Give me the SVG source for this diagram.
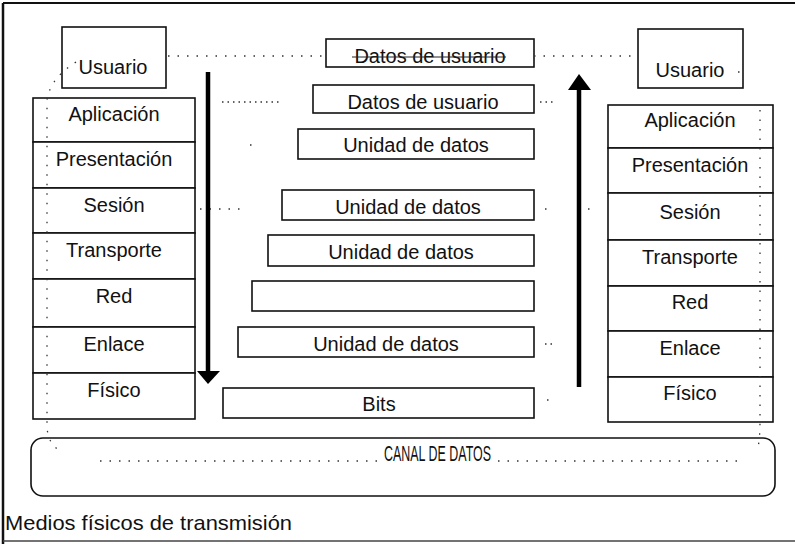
<svg xmlns="http://www.w3.org/2000/svg" width="795" height="544" viewBox="0 0 795 544">
<style>
  .box { fill: #fff; stroke: #111; stroke-width: 1.6; }
  .lbl { font-family: "Liberation Sans", Arial, sans-serif; font-size: 20px; fill: #111; text-anchor: middle; }
  .dot { fill: none; stroke: #333; stroke-width: 1.3; stroke-dasharray: 1.5 8; }
  .dense { fill: none; stroke: #333; stroke-width: 1.3; stroke-dasharray: 1.5 4; }
  .arrow { stroke: #000; stroke-width: 4.5; fill: none; }
</style>
<rect x="0" y="0" width="795" height="544" fill="#fff"/>
<g id="frame">
  <line x1="3" y1="3" x2="795" y2="3" stroke="#111" stroke-width="2"/>
  <line x1="3" y1="3" x2="3" y2="544" stroke="#111" stroke-width="2.5"/>
  <line x1="3" y1="541" x2="795" y2="541" stroke="#444" stroke-width="1.5"/>
</g>

<g id="usuario-izq">
  <rect class="box" x="62" y="27" width="104" height="61"/>
  <text class="lbl" x="113" y="74">Usuario</text>
</g>
<g id="pila-izq">
  <g id="aplicacion-izq"><rect class="box" x="33" y="98" width="162" height="44"/><text class="lbl" x="114" y="121">Aplicación</text></g>
  <g id="presentacion-izq"><rect class="box" x="33" y="142" width="162" height="46"/><text class="lbl" x="114" y="166">Presentación</text></g>
  <g id="sesion-izq"><rect class="box" x="33" y="188" width="162" height="45"/><text class="lbl" x="114" y="212">Sesión</text></g>
  <g id="transporte-izq"><rect class="box" x="33" y="233" width="162" height="46"/><text class="lbl" x="114" y="257">Transporte</text></g>
  <g id="red-izq"><rect class="box" x="33" y="279" width="162" height="48"/><text class="lbl" x="114" y="303">Red</text></g>
  <g id="enlace-izq"><rect class="box" x="33" y="327" width="162" height="46"/><text class="lbl" x="114" y="351">Enlace</text></g>
  <g id="fisico-izq"><rect class="box" x="33" y="373" width="162" height="46"/><text class="lbl" x="114" y="397">Físico</text></g>
</g>

<g id="centro">
  <g id="c1"><rect class="box" x="326" y="39" width="208" height="28"/><text class="lbl" x="430" y="63">Datos de usuario</text></g>
  <g id="c2"><rect class="box" x="313" y="85" width="221" height="28"/><text class="lbl" x="423" y="109">Datos de usuario</text></g>
  <g id="c3"><rect class="box" x="298" y="129" width="236" height="30"/><text class="lbl" x="416" y="152">Unidad de datos</text></g>
  <g id="c4"><rect class="box" x="282" y="190" width="252" height="30"/><text class="lbl" x="408" y="214">Unidad de datos</text></g>
  <g id="c5"><rect class="box" x="268" y="235" width="266" height="31"/><text class="lbl" x="401" y="259">Unidad de datos</text></g>
  <g id="c6"><rect class="box" x="252" y="281" width="282" height="30"/></g>
  <g id="c7"><rect class="box" x="238" y="327" width="296" height="30"/><text class="lbl" x="386" y="351">Unidad de datos</text></g>
  <g id="c8"><rect class="box" x="223" y="388" width="311" height="30"/><text class="lbl" x="379" y="411">Bits</text></g>
</g>

<g id="usuario-der">
  <rect class="box" x="638" y="29" width="105" height="59"/>
  <text class="lbl" x="690" y="77">Usuario</text>
</g>
<g id="pila-der">
  <g id="aplicacion-der"><rect class="box" x="608" y="105" width="165" height="43"/><text class="lbl" x="690" y="127">Aplicación</text></g>
  <g id="presentacion-der"><rect class="box" x="608" y="148" width="165" height="45"/><text class="lbl" x="690" y="172">Presentación</text></g>
  <g id="sesion-der"><rect class="box" x="608" y="193" width="165" height="47"/><text class="lbl" x="690" y="219">Sesión</text></g>
  <g id="transporte-der"><rect class="box" x="608" y="240" width="165" height="46"/><text class="lbl" x="690" y="264">Transporte</text></g>
  <g id="red-der"><rect class="box" x="608" y="286" width="165" height="45"/><text class="lbl" x="690" y="309">Red</text></g>
  <g id="enlace-der"><rect class="box" x="608" y="331" width="165" height="46"/><text class="lbl" x="690" y="355">Enlace</text></g>
  <g id="fisico-der"><rect class="box" x="608" y="377" width="165" height="45"/><text class="lbl" x="690" y="400">Físico</text></g>
</g>

<g id="canal">
  <rect x="31" y="438" width="744" height="58" rx="12" ry="12" fill="none" stroke="#111" stroke-width="1.6"/>
  <text x="384" y="461" font-family="Liberation Sans, Arial, sans-serif" font-size="22" fill="#111" textLength="107" lengthAdjust="spacingAndGlyphs">CANAL DE DATOS</text>
</g>
<g id="medios">
  <text x="5" y="530" font-family="Liberation Sans, Arial, sans-serif" font-size="21" fill="#111" textLength="287" lengthAdjust="spacingAndGlyphs">Medios físicos de transmisión</text>
</g>

<g id="connectors">
  <!-- virtual path left -->
  <path class="dot" d="M76 62 C60 72 49 85 47 100 L47 425 C47 440 54 448 62 452"/>
  <!-- virtual path right -->
  <path class="dot" d="M738 72 L741 72"/>
  <path class="dot" d="M760 110 L760 420 C760 435 759 445 757 451"/>
  <!-- along canal -->
  <path class="dot" d="M100 461 L380 461"/>
  <path class="dot" d="M498 461 L745 461"/>
  <!-- peer lines -->
  <path class="dot" d="M168 56 L326 56"/>
  <line x1="352" y1="57" x2="506" y2="57" stroke="#222" stroke-width="1"/>
  <path class="dot" d="M534 56 L637 56"/>
  <path class="dense" d="M222 102 L282 102"/>
  <path class="dense" d="M540 102 L556 102"/>
  <path class="dot" d="M250 145 L253 145"/>
  <path class="dot" d="M200 209 L240 209"/>
  <path class="dot" d="M545 209 L548 209"/>
  <path class="dot" d="M588 209 L591 209"/>
  <path class="dense" d="M545 344 L555 344"/>
  <path class="dot" d="M547 400 L550 400"/>
  <!-- direction arrows -->
  <line class="arrow" x1="208" y1="72" x2="208" y2="372"/>
  <polygon points="197,371 220,371 208,384" fill="#000"/>
  <line class="arrow" x1="579" y1="387" x2="579" y2="88"/>
  <polygon points="568,90 591,90 579,74" fill="#000"/>
</g>
</svg>
